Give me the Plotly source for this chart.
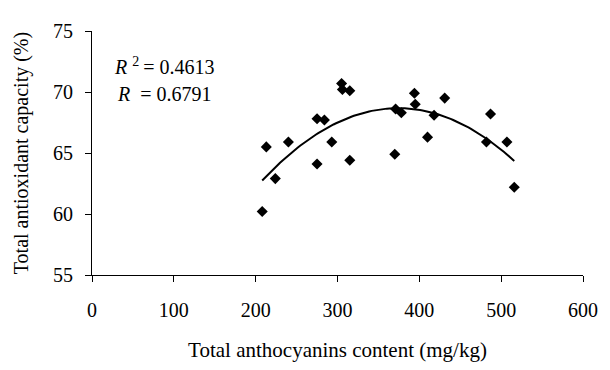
import numpy as np
import plotly.graph_objects as go

# Data
anthocyanins = [208, 213, 224, 240, 275, 275, 284, 293, 315, 305, 306, 315,
                394, 431, 395, 371, 378, 418, 410, 370, 487, 482, 507, 516]
antioxidant = [60.2, 65.5, 62.9, 65.9, 64.1, 67.8, 67.7, 65.9, 64.4, 70.7, 70.2, 70.1,
               69.9, 69.5, 69.0, 68.6, 68.3, 68.1, 66.3, 64.9, 68.2, 65.9, 65.9, 62.2]
x_ticks = [0, 100, 200, 300, 400, 500, 600]
y_ticks = [55, 60, 65, 70, 75]
r2_text = "0.4613"
r_text = "0.6791"

# second-order polynomial trendline
coef = np.polyfit(anthocyanins, antioxidant, 2)
xf = np.linspace(min(anthocyanins), max(anthocyanins), 100)
yf = np.polyval(coef, xf)

FONT = "Liberation Serif, Palatino Linotype, Book Antiqua, serif"

fig = go.Figure()
fig.add_trace(go.Scatter(
    x=anthocyanins, y=antioxidant, mode="markers",
    marker=dict(symbol="diamond", size=8.5, color="black", line=dict(width=0)),
    showlegend=False, hoverinfo="skip"))
fig.add_trace(go.Scatter(
    x=xf, y=yf, mode="lines", line=dict(color="black", width=2),
    showlegend=False, hoverinfo="skip"))

fig.add_annotation(x=88, y=72.15, xref="x", yref="y", showarrow=False,
                   text="<i>R</i>\u00a0<sup>2</sup>\u2009= " + r2_text,
                   font=dict(family=FONT, size=20, color="black"))
fig.add_annotation(x=88, y=69.85, xref="x", yref="y", showarrow=False,
                   text="<i>R</i>\u00a0 = " + r_text,
                   font=dict(family=FONT, size=20, color="black"))

# page body has an 8px default margin, so the figure is shifted by 8px
fig.update_layout(
    width=602, height=362,
    margin=dict(l=84, r=16, t=13, b=88),
    plot_bgcolor="white", paper_bgcolor="white",
    font=dict(family=FONT, size=20, color="black"),
    xaxis=dict(range=[0, 600], tickvals=x_ticks, showgrid=False, zeroline=False,
               showline=True, linecolor="black", linewidth=1,
               ticks="outside", ticklen=6, tickcolor="black",
               ticklabelstandoff=11,
               title=dict(text="Total anthocyanins content (mg/kg)", standoff=22,
                          font=dict(size=21))),
    yaxis=dict(range=[55, 75], tickvals=y_ticks, showgrid=False, zeroline=False,
               showline=True, linecolor="black", linewidth=1,
               ticks="outside", ticklen=6, tickcolor="black",
               ticklabelstandoff=8,
               title=dict(text="Total antioxidant capacity (%)", standoff=19,
                          font=dict(size=20))),
)

fig.write_html("out.html")
